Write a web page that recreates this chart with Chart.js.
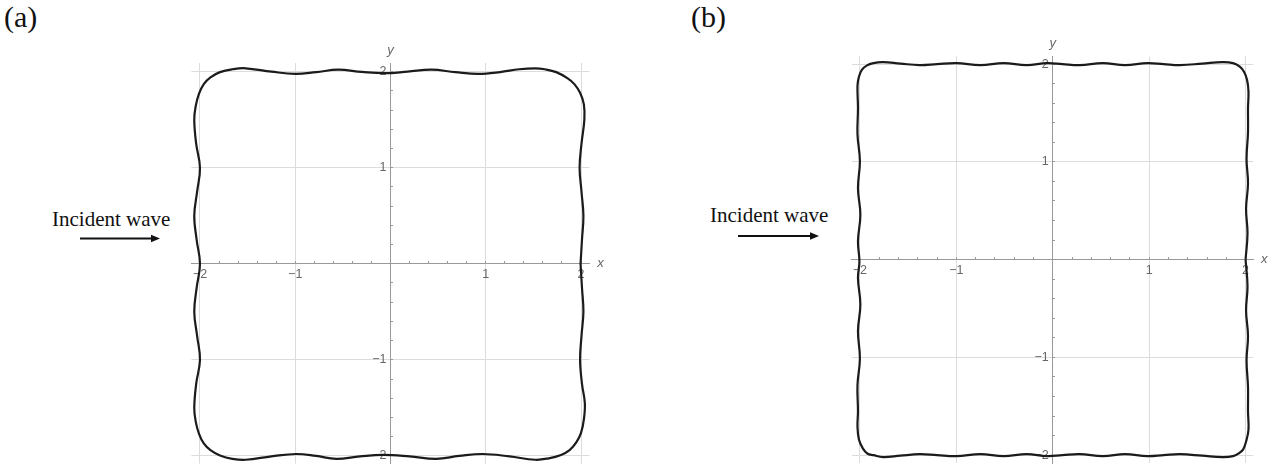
<!DOCTYPE html>
<html>
<head>
<meta charset="utf-8">
<script src="https://cdn.jsdelivr.net/npm/chart.js@4.4.1/dist/chart.umd.min.js"></script>
<style>
  html, body { margin: 0; padding: 0; background: #fff; }
  body { width: 1280px; height: 473px; position: relative; overflow: hidden;
         font-family: "Liberation Serif", "Times New Roman", serif; color: #111; }
  .tag { position: absolute; font-size: 30px; line-height: 1; }
  .incident { position: absolute; font-size: 21px; line-height: 1; white-space: nowrap; }
  canvas { position: absolute; }
  svg { position: absolute; left: 0; top: 0; }
</style>
</head>
<body>
<div class="tag" style="left:4px;top:2px">(a)</div>
<div class="tag" style="left:691px;top:2px">(b)</div>
<div class="incident" style="left:52px;top:209px">Incident wave</div>
<div class="incident" style="left:710px;top:205px">Incident wave</div>
<svg width="1280" height="473">
  <line x1="80" y1="238.5" x2="153" y2="238.5" stroke="#111" stroke-width="2"/>
  <polygon points="160,238.5 151,234.8 151,242.2" fill="#111"/>
  <line x1="738" y1="236" x2="812" y2="236" stroke="#111" stroke-width="2"/>
  <polygon points="819,236 810,232.3 810,239.7" fill="#111"/>
</svg>
<canvas id="chartA" width="470" height="443" style="left:150px;top:30px"></canvas>
<canvas id="chartB" width="470" height="453" style="left:810px;top:20px"></canvas>

<script>
// outline (a), counter-clockwise from the right edge at y = 0
const shapeAX = [
  1.995, 2.01, 2.025, 2.005, 1.985, 2.005, 2.035,
  2.03, 1.99, 1.93, 1.86, 1.74, 1.62, 1.52,
  1.35, 1.15, 0.92, 0.68, 0.43, 0.18, -0.06, -0.3, -0.55, -0.78, -1.0, -1.25, -1.52,
  -1.66, -1.79, -1.89, -1.96, -2.01, -2.045, -2.06,
  -2.04, -2.0, -2.03, -2.06, -2.035, -2.0, -2.035, -2.06, -2.03, -2.0, -2.04, -2.06,
  -2.045, -2.01, -1.96, -1.89, -1.79, -1.66, -1.52,
  -1.25, -0.99, -0.78, -0.57, -0.32, -0.08, 0.2, 0.48, 0.72, 0.97, 1.25, 1.52,
  1.66, 1.79, 1.88, 1.95, 2.0, 2.03, 2.04,
  2.01, 1.99, 2.005, 2.025, 2.01, 1.995
];
const shapeAY = [
  0.0, 0.25, 0.5, 0.75, 1.0, 1.25, 1.5,
  1.66, 1.78, 1.87, 1.93, 1.995, 2.025, 2.035,
  2.025, 1.995, 1.977, 1.995, 2.02, 2.0, 1.984, 1.997, 2.02, 1.995, 1.977, 2.0, 2.035,
  2.025, 1.995, 1.94, 1.87, 1.77, 1.64, 1.5,
  1.25, 1.0, 0.75, 0.5, 0.25, 0.0, -0.25, -0.5, -0.75, -1.0, -1.25, -1.5,
  -1.64, -1.77, -1.87, -1.94, -1.995, -2.03, -2.04,
  -2.005, -1.98, -2.0, -2.03, -2.005, -1.99, -2.005, -2.03, -2.0, -1.98, -2.005, -2.04,
  -2.025, -1.99, -1.94, -1.86, -1.76, -1.62, -1.45,
  -1.25, -1.0, -0.75, -0.5, -0.25, 0.0
];

// outline (b), same direction
const shapeBX = [
  2.0, 2.02, 2.005, 2.025, 2.01, 2.025, 2.025, 2.03,
  2.015, 1.985, 1.94, 1.87, 1.76,
  1.55, 1.32, 1.15, 0.98, 0.75, 0.52, 0.28, 0.1, -0.06, -0.27, -0.51, -0.75, -1.0, -1.2, -1.38, -1.58, -1.76,
  -1.86, -1.93, -1.98, -2.01, -2.025,
  -2.02, -2.025, -2.0, -2.02, -1.995, -2.02, -2.005, -2.02, -1.995, -2.02, -2.0, -2.025, -2.02,
  -2.025, -2.01, -1.97, -1.92, -1.86, -1.76,
  -1.58, -1.38, -1.2, -1.0, -0.75, -0.51, -0.27, -0.06, 0.1, 0.28, 0.52, 0.75, 0.98, 1.15, 1.32, 1.55, 1.76,
  1.87, 1.93, 1.975, 2.005, 2.03,
  2.025, 2.025, 2.01, 2.025, 2.005, 2.02, 2.0
];
const shapeBY = [
  0.0, 0.27, 0.52, 0.78, 1.03, 1.3, 1.55, 1.72,
  1.84, 1.92, 1.975, 2.01, 2.02,
  2.005, 1.99, 2.0, 2.01, 1.99, 2.01, 1.99, 2.0, 2.01, 1.99, 2.01, 1.99, 2.01, 2.0, 1.99, 2.005, 2.02,
  2.01, 1.985, 1.94, 1.87, 1.78,
  1.55, 1.28, 1.01, 0.73, 0.46, 0.19, -0.02, -0.19, -0.46, -0.73, -1.01, -1.28, -1.55,
  -1.71, -1.84, -1.93, -1.985, -2.0, -2.02,
  -2.005, -1.99, -2.0, -2.01, -1.99, -2.01, -1.99, -2.01, -2.0, -1.99, -2.01, -1.99, -2.01, -2.0, -1.99, -2.005, -2.02,
  -2.01, -1.98, -1.94, -1.86, -1.74,
  -1.55, -1.3, -1.03, -0.78, -0.52, -0.27, 0.0
];

const tickLabels = [-2, -1, 1, 2];
const minorStep = 0.2;

function toPoints(xs, ys) {
  return xs.map((x, i) => ({ x: x, y: ys[i] }));
}

function fmt(v) {
  return v < 0 ? '\u2212' + Math.abs(v) : String(v);
}

function isWhole(v) {
  return Math.abs(v - Math.round(v)) < 1e-6;
}

// tick numbers and the x / y names, drawn under the curve
const axisText = {
  id: 'axisText',
  beforeDatasetsDraw(chart) {
    const { ctx, chartArea, scales } = chart;
    const x0 = scales.x.getPixelForValue(0);
    const y0 = scales.y.getPixelForValue(0);
    ctx.save();
    ctx.fillStyle = '#666';
    ctx.font = '12.5px "Liberation Sans", Arial, sans-serif';
    ctx.textBaseline = 'middle';
    ctx.textAlign = 'center';
    tickLabels.forEach(v => ctx.fillText(fmt(v), scales.x.getPixelForValue(v), y0 + 11));
    ctx.textAlign = 'right';
    tickLabels.forEach(v => ctx.fillText(fmt(v), x0 - 4, scales.y.getPixelForValue(v)));
    ctx.font = 'italic 13px "Liberation Sans", Arial, sans-serif';
    ctx.textAlign = 'center';
    ctx.fillText('x', chartArea.right + 11, y0);
    ctx.fillText('y', x0, chartArea.top - 13);
    ctx.restore();
  }
};

function axisOptions(min, max, cross) {
  return {
    type: 'linear',
    min: min,
    max: max,
    position: cross,
    ticks: { display: false, stepSize: minorStep, includeBounds: false, autoSkip: false },
    grid: {
      color: c => isWhole(c.tick.value) ? '#dcdcdc' : 'rgba(0,0,0,0)',
      tickColor: '#999',
      tickLength: -3,
      lineWidth: 1
    },
    border: { color: '#999', width: 1 }
  };
}

function makeChart(id, xs, ys, xr, yr, pad) {
  return new Chart(document.getElementById(id), {
    type: 'scatter',
    data: {
      datasets: [{
        data: toPoints(xs, ys),
        showLine: true,
        borderColor: '#1b1b1b',
        borderWidth: 2.2,
        pointRadius: 0,
        tension: 0.4,
        fill: false
      }]
    },
    options: {
      responsive: false,
      animation: false,
      devicePixelRatio: 1,
      layout: { padding: pad },
      plugins: { legend: { display: false }, tooltip: { enabled: false } },
      scales: {
        x: axisOptions(xr[0], xr[1], { y: 0 }),
        y: axisOptions(yr[0], yr[1], { x: 0 })
      }
    },
    plugins: [axisText]
  });
}

makeChart('chartA', shapeAX, shapeAY, [-2.09, 2.09], [-2.08, 2.09],
  { left: 41.4, right: 30.4, top: 33, bottom: 9.4 });
makeChart('chartB', shapeBX, shapeBY, [-2.085, 2.08], [-2.08, 2.08],
  { left: 41.7, right: 26.7, top: 36.3, bottom: 10 });
</script>
</body>
</html>
